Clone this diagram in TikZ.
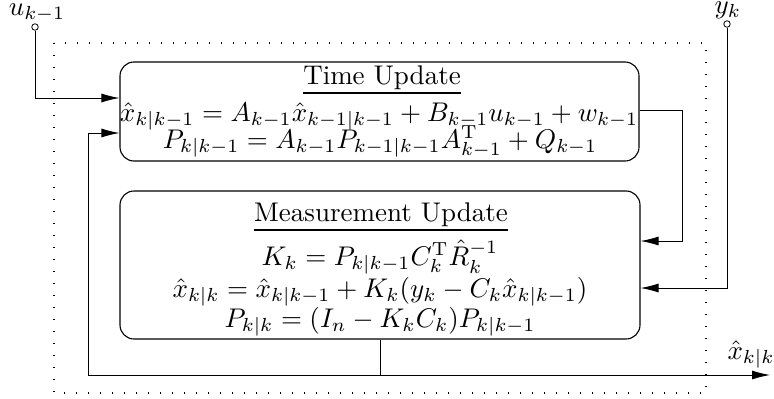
\documentclass[tikz,border=0pt]{standalone}
\usetikzlibrary{arrows.meta}
\begin{document}
\begin{tikzpicture}[x=1pt,y=-1pt,
  box/.style={draw,line width=1.1pt,rounded corners=14pt,inner sep=0pt},
  txt/.style={anchor=base,inner sep=0pt,scale=2.7},
  arr/.style={line width=0.9pt,-{Latex[length=18pt,width=9pt]}},
  term/.style={circle,draw,line width=0.8pt,inner sep=0pt,minimum size=6.5pt,fill=white},
  frame/.style={line width=1.3pt,dash pattern=on 1.3pt off 10.7pt}
]
\useasboundingbox (0,0) rectangle (774,399);
\draw[frame] (54,43) rectangle (706,393);
\node[box,minimum width=519pt,minimum height=99pt] (tu) at (379.5,111.5) {};
\node[box,minimum width=520pt,minimum height=148pt] (mu) at (380,265) {};
\node[txt] (tut) at (382,84) {\underline{Time Update}};
\node[txt] (tu1) at (379,121) {$\hat x_{k|k-1} = A_{k-1}\hat x_{k-1|k-1} + B_{k-1}u_{k-1} + w_{k-1}$};
\node[txt] (tu2) at (380,148) {$P_{k|k-1} = A_{k-1}P_{k-1|k-1}A_{k-1}^{\mathrm T} + Q_{k-1}$};
\node[txt] (mut) at (381,221) {\underline{Measurement Update}};
\node[txt] (mu1) at (380,265) {$K_k = P_{k|k-1}C_k^{\mathrm T}\hat R_k^{-1}$};
\node[txt] (mu2) at (380,297) {$\hat x_{k|k} = \hat x_{k|k-1} + K_k(y_k - C_k\hat x_{k|k-1})$};
\node[txt] (mu3) at (380,327) {$P_{k|k} = (I_n - K_kC_k)P_{k|k-1}$};
\node[term] (u) at (35,27) {};
\node[txt] (ul) at (37,15) {$u_{k-1}$};
\node[term] (y) at (727,24) {};
\node[txt] (yl) at (728,13) {$y_k$};
\node[txt,anchor=base west] (xl) at (727,359) {$\hat x_{k|k}$};
\coordinate (c1) at (682,241);
\coordinate (j) at (mu.south |- 0,375);
\coordinate (out) at (770,375);
\coordinate (fb) at (88,133);
\draw[arr] (u) |- (tu.west |- 0,98);
\draw[arr] (tu.east |- 0,110) -| (c1) -- (mu.east |- c1);
\draw[arr] (y) |- (mu.east |- 0,288);
\draw[arr] (mu.south) |- (out);
\draw[arr] (j) -| (fb) -- (tu.west |- fb);
\end{tikzpicture}
\end{document}
